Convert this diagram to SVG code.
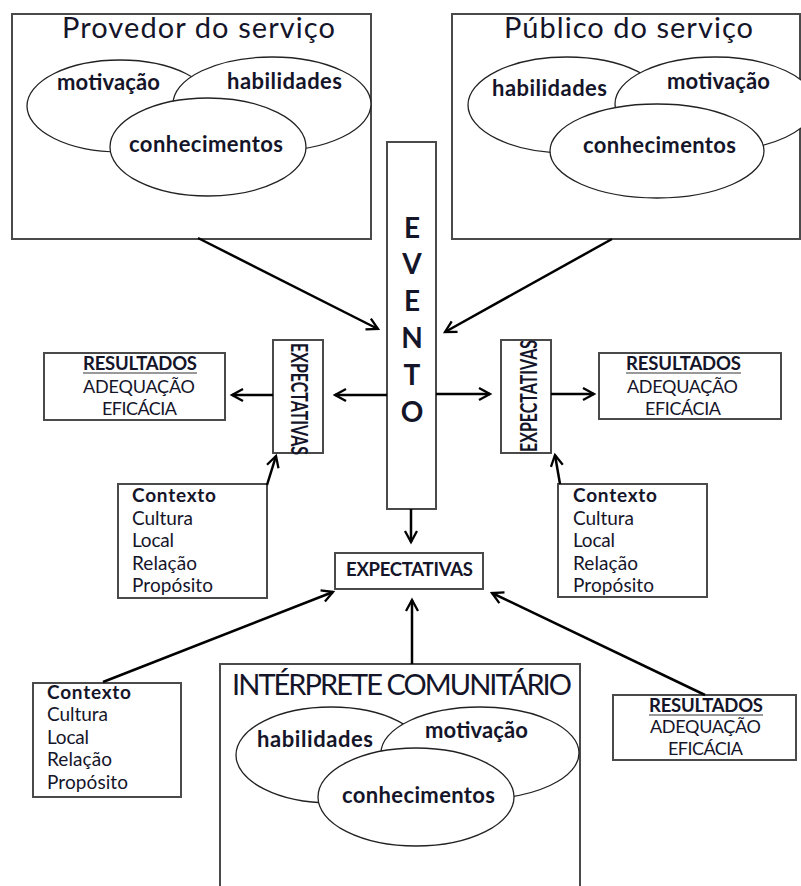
<svg xmlns="http://www.w3.org/2000/svg" width="801" height="886" viewBox="0 0 801 886">
<defs>
<style>
.box{fill:#fff;stroke:#4a4a4a;stroke-width:2}
.ell{fill:#fff;stroke:#222;stroke-width:1.3}
text{font-family:Lato,"Open Sans","Liberation Sans",sans-serif;fill:#15152a}
.title{font-size:29px}
.eb{font-size:22px;font-weight:bold;text-anchor:middle}
.ev{font-size:28px;font-weight:bold;text-anchor:middle}
.res{font-size:18px;text-anchor:middle}
.resb{font-size:18.5px;font-weight:bold;text-anchor:middle}
.ctx{font-size:19px}
.ctxb{font-size:19px;font-weight:bold}
.vx{font-size:22px;font-weight:bold}
.ul{stroke:#777;stroke-width:1.5}
.con line{stroke:#000;stroke-width:2.5;marker-end:url(#ah)}
</style>
<marker id="ah" markerWidth="16" markerHeight="16" refX="12" refY="7" orient="auto" markerUnits="userSpaceOnUse">
<path d="M1,1 L12,7 L1,13" fill="none" stroke="#000" stroke-width="2.3"/>
</marker>
</defs>
<rect width="801" height="886" fill="#fff"/>

<g id="provedor">
<rect class="box" x="12" y="14" width="359" height="225"/>
<text class="title" x="198.5" y="38" text-anchor="middle" textLength="273">Provedor do serviço</text>
<ellipse class="ell" cx="120" cy="106" rx="93" ry="46"/>
<ellipse class="ell" cx="272" cy="104" rx="99" ry="47"/>
<ellipse class="ell" cx="208" cy="147" rx="98" ry="49"/>
<text class="eb" x="108.5" y="90" textLength="103">motivação</text>
<text class="eb" x="284.5" y="89" textLength="115">habilidades</text>
<text class="eb" x="206" y="152" textLength="154">conhecimentos</text>
</g>

<g id="publico">
<rect class="box" x="452" y="14" width="348" height="225"/>
<ellipse class="ell" cx="567" cy="105" rx="99" ry="48"/>
<ellipse class="ell" cx="715" cy="104" rx="100" ry="47"/>
<ellipse class="ell" cx="657" cy="151" rx="107" ry="47"/>
<text class="title" x="628.5" y="38" text-anchor="middle" textLength="249">Público do serviço</text>
<text class="eb" x="549.5" y="96" textLength="115">habilidades</text>
<text class="eb" x="718.5" y="89" textLength="103">motivação</text>
<text class="eb" x="659.5" y="153" textLength="153">conhecimentos</text>
</g>

<g id="evento">
<rect class="box" x="387" y="142" width="49" height="367"/>
<text class="ev" x="412" y="238">E</text>
<text class="ev" x="412" y="274">V</text>
<text class="ev" x="412" y="311">E</text>
<text class="ev" x="412" y="348">N</text>
<text class="ev" x="412" y="385">T</text>
<text class="ev" x="412" y="422">O</text>
</g>

<g id="expectativas-esq">
<rect class="box" x="273" y="340" width="50" height="113"/>
<text class="vx" transform="translate(291,343) rotate(90)" textLength="112" lengthAdjust="spacingAndGlyphs">EXPECTATIVAS</text>
</g>

<g id="expectativas-dir">
<rect class="box" x="501" y="340" width="50" height="113"/>
<text class="vx" transform="translate(537,452) rotate(-90)" textLength="112" lengthAdjust="spacingAndGlyphs">EXPECTATIVAS</text>
</g>

<g id="resultados-esq">
<rect class="box" x="44" y="353" width="181" height="67"/>
<text class="resb" x="140" y="370" textLength="114">RESULTADOS</text>
<line class="ul" x1="83" y1="373" x2="197" y2="373"/>
<text class="res" x="139" y="393" textLength="112">ADEQUAÇÃO</text>
<text class="res" x="139.5" y="415" textLength="75">EFICÁCIA</text>
</g>

<g id="resultados-dir">
<rect class="box" x="599" y="353" width="182" height="66"/>
<text class="resb" x="683.5" y="370" textLength="115">RESULTADOS</text>
<line class="ul" x1="626" y1="373" x2="741" y2="373"/>
<text class="res" x="682.5" y="393" textLength="111">ADEQUAÇÃO</text>
<text class="res" x="683" y="415" textLength="76">EFICÁCIA</text>
</g>

<g id="contexto-esq">
<rect class="box" x="118" y="484" width="149" height="114"/>
<text class="ctxb" x="132" y="502" textLength="84">Contexto</text>
<text class="ctx" x="132" y="524.5" textLength="61">Cultura</text>
<text class="ctx" x="132" y="547" textLength="42">Local</text>
<text class="ctx" x="132" y="569.5" textLength="65">Relação</text>
<text class="ctx" x="132" y="592" textLength="81">Propósito</text>
</g>

<g id="contexto-dir">
<rect class="box" x="558" y="484" width="149" height="113"/>
<text class="ctxb" x="573" y="502" textLength="84">Contexto</text>
<text class="ctx" x="573" y="524.5" textLength="61">Cultura</text>
<text class="ctx" x="573" y="547" textLength="42">Local</text>
<text class="ctx" x="573" y="569.5" textLength="65">Relação</text>
<text class="ctx" x="573" y="592" textLength="81">Propósito</text>
</g>

<g id="expectativas-centro">
<rect class="box" x="335" y="553" width="148" height="36"/>
<text class="resb" x="409.5" y="576" textLength="127">EXPECTATIVAS</text>
</g>

<g id="contexto-baixo">
<rect class="box" x="33" y="683" width="148" height="114"/>
<text class="ctxb" x="47" y="698.5" textLength="84">Contexto</text>
<text class="ctx" x="47" y="721" textLength="61">Cultura</text>
<text class="ctx" x="47" y="743.5" textLength="42">Local</text>
<text class="ctx" x="47" y="766" textLength="65">Relação</text>
<text class="ctx" x="47" y="788.5" textLength="81">Propósito</text>
</g>

<g id="interprete">
<rect class="box" x="220" y="664" width="360" height="240"/>
<text class="title" x="402" y="695" text-anchor="middle" font-size="25.5" textLength="340">INTÉRPRETE COMUNITÁRIO</text>
<ellipse class="ell" cx="331" cy="755" rx="95" ry="48"/>
<ellipse class="ell" cx="480" cy="753" rx="99" ry="46"/>
<ellipse class="ell" cx="416" cy="797" rx="98" ry="49"/>
<text class="eb" x="315" y="747" textLength="116">habilidades</text>
<text class="eb" x="476.5" y="738" textLength="103">motivação</text>
<text class="eb" x="418.5" y="803" textLength="153">conhecimentos</text>
</g>

<g id="resultados-baixo">
<rect class="box" x="613" y="695" width="183" height="65"/>
<text class="resb" x="706" y="712" textLength="114">RESULTADOS</text>
<line class="ul" x1="649" y1="715" x2="763" y2="715"/>
<text class="res" x="705.5" y="733" textLength="111">ADEQUAÇÃO</text>
<text class="res" x="705.5" y="755" textLength="75">EFICÁCIA</text>
</g>

<g id="connectors" class="con">
<line x1="198" y1="238" x2="378" y2="329"/>
<line x1="612" y1="239" x2="445" y2="332"/>
<line x1="387" y1="395" x2="335" y2="395"/>
<line x1="273" y1="395" x2="232" y2="395"/>
<line x1="436" y1="394" x2="490" y2="394"/>
<line x1="551" y1="394" x2="594" y2="394"/>
<line x1="267" y1="485" x2="276" y2="456"/>
<line x1="560" y1="484" x2="555" y2="455"/>
<line x1="411" y1="509" x2="411" y2="542"/>
<line x1="103" y1="682" x2="333" y2="592"/>
<line x1="412" y1="664" x2="412" y2="600"/>
<line x1="705" y1="695" x2="492" y2="593"/>
</g>
</svg>
